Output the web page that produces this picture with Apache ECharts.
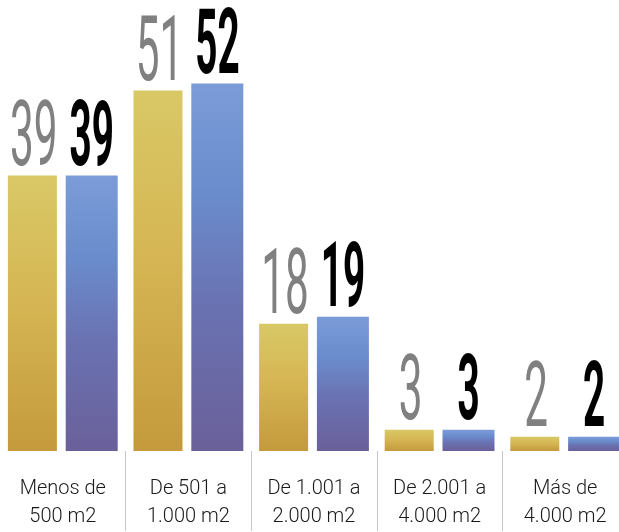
<!DOCTYPE html>
<html><head><meta charset="utf-8">
<script src="https://cdn.jsdelivr.net/npm/echarts@6/dist/echarts.min.js"></script>
<style>html,body{margin:0;padding:0;background:#fff;overflow:hidden}#c{width:628px;height:532px}</style>
</head><body><div id="c"></div>
<script>
const categories = ['Menos de\n500 m2', 'De 501 a\n1.000 m2', 'De 1.001 a\n2.000 m2', 'De 2.001 a\n4.000 m2', 'Más de\n4.000 m2'];
const seriesA = [39, 51, 18, 3, 2];
const seriesB = [39, 52, 19, 3, 2];

const chart = echarts.init(document.getElementById('c'));
const gold = new echarts.graphic.LinearGradient(0, 0, 0, 1, [
  {offset: 0, color: '#d9c866'}, {offset: 0.45, color: '#d6b654'}, {offset: 1, color: '#c49a3c'}]);
const blue = new echarts.graphic.LinearGradient(0, 0, 0, 1, [
  {offset: 0, color: '#7b9cd8'}, {offset: 0.3, color: '#6a8ccc'}, {offset: 0.6, color: '#6a72b2'}, {offset: 1, color: '#6a609a'}]);

function labelSeries(data, offset, color, weight, sx) {
  return {
    type: 'custom',
    data: data.map((v, i) => [i, v]),
    encode: {x: 0, y: 1},
    z: 5,
    renderItem: function (params, api) {
      const v = api.value(1);
      const pt = api.coord([api.value(0), v]);
      return {
        type: 'text', x: pt[0] + offset, y: pt[1] + 12, scaleX: sx,
        style: {text: String(v), fontSize: 90, fontFamily: 'Roboto', fontWeight: weight,
          fill: color, align: 'center', verticalAlign: 'bottom'}
      };
    }
  };
}

chart.setOption({
  animation: false,
  grid: {left: -1, right: 0, top: 27, bottom: 81},
  xAxis: {
    type: 'category', data: categories,
    axisLine: {show: false},
    axisTick: {show: true, interval: function (i) { return i > 0; }, length: 80,
      lineStyle: {color: '#c8c8c8', width: 1}},
    axisLabel: {interval: 0, margin: 24, fontSize: 20, lineHeight: 28, color: '#1a1a1a',
      fontFamily: 'Roboto', fontWeight: 300}
  },
  yAxis: {type: 'value', min: 0, max: 60, show: false, splitLine: {show: false}},
  series: [
    {type: 'bar', data: seriesA, barWidth: 49, barGap: '18%',
      itemStyle: {color: gold}},
    {type: 'bar', data: seriesB, barWidth: 52,
      itemStyle: {color: blue}},
    labelSeries(seriesA, -29, '#808080', 'normal', 0.47),
    labelSeries(seriesB, 29, '#000000', 'bold', 0.43)
  ]
});
</script></body></html>
